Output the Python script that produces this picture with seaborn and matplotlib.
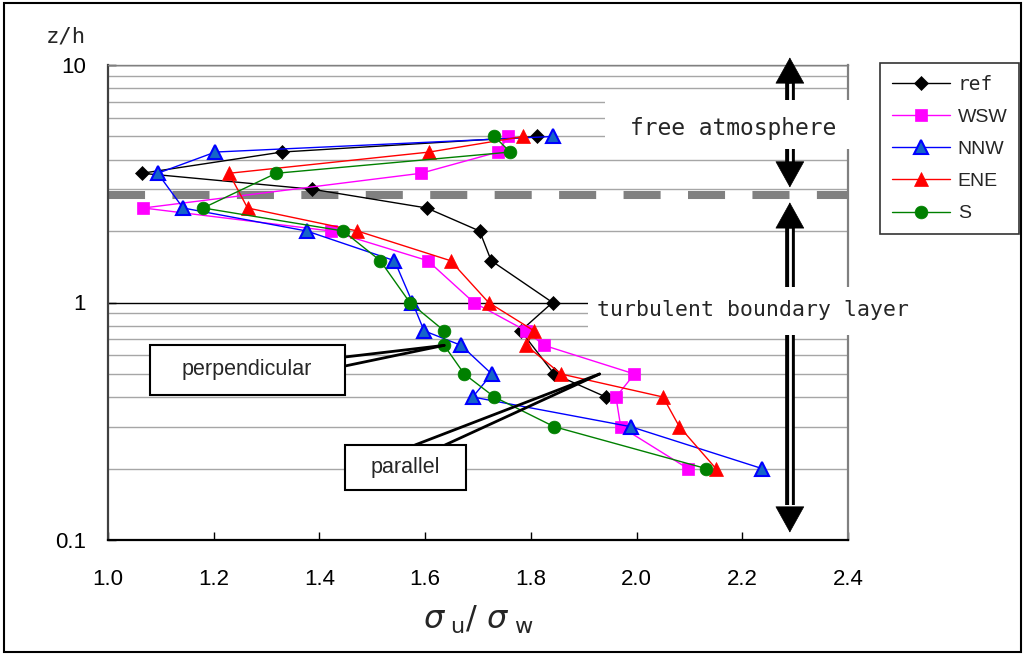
import seaborn as sns
import matplotlib.pyplot as plt
from matplotlib.patches import Rectangle
from matplotlib.ticker import FixedLocator, FixedFormatter, NullFormatter, LogLocator

# heights z/h of the measurement levels
z_ref = [5.0, 4.3, 3.5, 3.0, 2.5, 2.0, 1.5, 1.0, 0.76, 0.5, 0.4]
z_dir = [5.0, 4.3, 3.5, 2.5, 2.0, 1.5, 1.0, 0.76, 0.66, 0.5, 0.4, 0.3, 0.2]

# sigma_u / sigma_w
sig_ref = [1.811, 1.329, 1.064, 1.386, 1.603, 1.703, 1.725, 1.841, 1.781, 1.844, 1.942]
sig_wsw = [1.757, 1.738, 1.592, 1.067, 1.422, 1.605, 1.692, 1.791, 1.825, 1.996, 1.961, 1.970, 2.097]
sig_nnw = [1.841, 1.203, 1.094, 1.142, 1.376, 1.542, 1.576, 1.598, 1.668, 1.726, 1.690, 1.989, 2.237]
sig_ene = [1.786, 1.608, 1.229, 1.264, 1.472, 1.648, 1.720, 1.806, 1.791, 1.857, 2.050, 2.081, 2.150]
sig_s = [1.731, 1.761, 1.318, 1.180, 1.445, 1.515, 1.571, 1.636, 1.636, 1.674, 1.731, 1.844, 2.131]

series_names = ["ref", "WSW", "NNW", "ENE", "S"]
x_ticks = [1.0, 1.2, 1.4, 1.6, 1.8, 2.0, 2.2, 2.4]
y_ticks = [0.1, 1, 10]
y_tick_labels = ["0.1", "1", "10"]
layer_top = 2.84          # top of the boundary layer (dashed line)
parallel_tip = (1.93, 0.5)

styles = {
    "ref": dict(color="black", marker="D", markersize=6.8, markerfacecolor="black", markeredgecolor="black", markeredgewidth=0.5),
    "WSW": dict(color="#ff00ff", marker="s", markersize=9.2, markerfacecolor="#ff00ff", markeredgecolor="#ff00ff", markeredgewidth=0.5),
    "NNW": dict(color="#0000ff", marker="^", markersize=10, markerfacecolor="#1565c8", markeredgecolor="#0000ff", markeredgewidth=1.5),
    "ENE": dict(color="#ff0000", marker="^", markersize=10.5, markerfacecolor="#ff0000", markeredgecolor="#ff0000", markeredgewidth=0.5),
    "S": dict(color="#008000", marker="o", markersize=9.2, markerfacecolor="#008000", markeredgecolor="#008000", markeredgewidth=0.5),
}

sns.set_theme(style="white")
plt.rcParams["font.family"] = ["Liberation Sans", "DejaVu Sans"]
mono = ["DejaVu Sans Mono", "DejaVu Sans"]

W, H = 1025, 656
def fx(x):
    return x / W
def fy(y):
    return 1 - y / H

fig = plt.figure(figsize=(10.25, 6.56), dpi=100)
ax = fig.add_axes([fx(108), fy(540), 740 / W, 475 / H])

ax.axhline(layer_top, color="#808080", lw=5.8, dashes=(4.6, 3.4), zorder=1.5)

all_sig = [sig_ref, sig_wsw, sig_nnw, sig_ene, sig_s]
all_z = [z_ref, z_dir, z_dir, z_dir, z_dir]
for name, s, z in zip(series_names, all_sig, all_z):
    sns.lineplot(x=s, y=z, sort=False, estimator=None, ax=ax, label=name,
                 lw=1, zorder=3, **styles[name])

ax.set_yscale("log")
ax.set_xlim(1.0, 2.4)
ax.set_ylim(0.1, 10)
ax.xaxis.set_major_locator(FixedLocator(x_ticks))
ax.set_xticklabels([f"{t:.1f}" for t in x_ticks])
ax.yaxis.set_major_locator(FixedLocator(y_ticks))
ax.yaxis.set_major_formatter(FixedFormatter(y_tick_labels))
ax.yaxis.set_minor_locator(LogLocator(base=10, subs=range(2, 10)))
ax.yaxis.set_minor_formatter(NullFormatter())
ax.set_xlabel("")
ax.set_ylabel("")

ax.set_axisbelow(True)
ax.yaxis.grid(True, which="major", color="black", lw=1)
ax.yaxis.grid(True, which="minor", color="#a6a6a6", lw=1)
ax.xaxis.grid(False)

ax.tick_params(axis="x", which="major", direction="in", length=6, width=1, pad=21,
               labelsize=16, colors="black", bottom=True)
ax.tick_params(axis="y", which="major", direction="in", length=6, width=1, pad=16,
               labelsize=16, colors="black", left=True)
ax.tick_params(which="minor", length=0)

ax.spines["left"].set_color("#404040")
ax.spines["left"].set_linewidth(1.6)
ax.spines["bottom"].set_color("black")
ax.spines["bottom"].set_linewidth(1.6)
ax.spines["right"].set_color("#808080")
ax.spines["right"].set_linewidth(1.6)
ax.spines["top"].set_color("#808080")
ax.spines["top"].set_linewidth(1)

# vertical arrows marking the layers
arrow_x = 2.29
def shaft(y0, y1):
    ax.plot([arrow_x, arrow_x], [y0, y1], color="black", lw=7, solid_capstyle="butt",
            clip_on=False, zorder=4)
    ax.plot([arrow_x, arrow_x], [y0, y1], color="white", lw=2, solid_capstyle="butt",
            clip_on=False, zorder=4.1)

def head(base, tip):
    ax.annotate("", xy=(arrow_x, tip), xytext=(arrow_x, base),
                arrowprops=dict(arrowstyle="-|>,head_length=0.9,head_width=0.5",
                                color="black", lw=0.5, shrinkA=0, shrinkB=0,
                                mutation_scale=20),
                annotation_clip=False, zorder=4.2)

shaft(7.09, 8.4)
head(8.36, 10.76)
shaft(4.49, 3.8)
head(3.85, 3.05)
shaft(1.0, 2.05)
head(2.09, 2.64)
shaft(1.0, 0.14)
head(0.137, 0.1075)

# callouts
perp_tip = (sig_s[8], z_dir[8])
for yy in (357, 366):
    ax.annotate("", xy=perp_tip, xycoords="data", xytext=(fx(345), fy(yy)),
                textcoords="figure fraction",
                arrowprops=dict(arrowstyle="-", color="black", lw=2, shrinkA=0, shrinkB=0),
                zorder=5)
for xx in (415, 445):
    ax.annotate("", xy=parallel_tip, xycoords="data", xytext=(fx(xx), fy(445)),
                textcoords="figure fraction",
                arrowprops=dict(arrowstyle="-", color="black", lw=2, shrinkA=0, shrinkB=0),
                zorder=5)

fig.add_artist(Rectangle((fx(150), fy(395)), 195 / W, 50 / H, transform=fig.transFigure,
                         fc="white", ec="black", lw=1.5, zorder=5))
fig.text(fx(247), fy(370), "perpendicular", ha="center", va="center", fontsize=15.5, zorder=6)
fig.add_artist(Rectangle((fx(345), fy(490)), 121 / W, 45 / H, transform=fig.transFigure,
                         fc="white", ec="black", lw=1.5, zorder=5))
fig.text(fx(405), fy(467), "parallel", ha="center", va="center", fontsize=15.5, zorder=6)

# layer labels on white boxes
fig.add_artist(Rectangle((fx(605), fy(149)), 255 / W, 49 / H, transform=fig.transFigure,
                         fc="white", ec="none", zorder=5))
fig.text(fx(733), fy(128), "free atmosphere", ha="center", va="center", fontsize=16.5,
         family=mono, zorder=6)
fig.add_artist(Rectangle((fx(588), fy(335)), 327 / W, 48 / H, transform=fig.transFigure,
                         fc="white", ec="none", zorder=5))
fig.text(fx(753), fy(310), "turbulent boundary layer", ha="center", va="center",
         fontsize=15.5, family=mono, zorder=6)

fig.text(fx(66), fy(37), "z/h", ha="center", va="center", fontsize=16, family=mono)
fig.text(fx(478), fy(620), r"$\sigma_{\ \mathrm{u}}/\ \sigma_{\ \mathrm{w}}$",
         ha="center", va="center", fontsize=23)

leg = ax.legend(loc="upper left", bbox_to_anchor=(fx(880), fy(63)),
                bbox_transform=fig.transFigure, frameon=True, fancybox=False,
                edgecolor="black", fontsize=14, handlelength=3.0, handletextpad=0.4,
                labelspacing=0.75, borderpad=0.6, borderaxespad=0)
leg.get_frame().set_linewidth(1.2)
leg.get_texts()[0].set_family(mono)

fig.add_artist(Rectangle((fx(4), fy(652)), 1017 / W, 649 / H, transform=fig.transFigure,
                         fill=False, ec="black", lw=1.5, zorder=10))

fig.savefig("out.png", dpi=100)
